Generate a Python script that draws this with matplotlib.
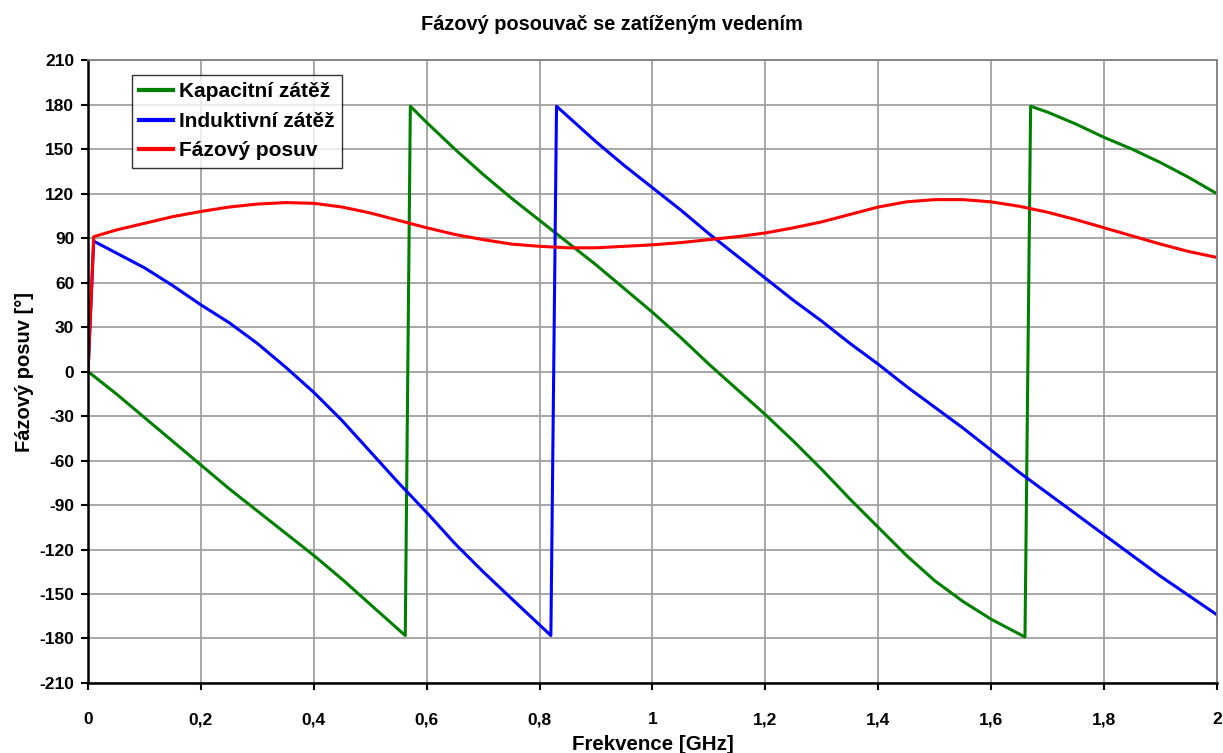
import numpy as np
import matplotlib.pyplot as plt

plt.rcParams['font.family'] = ['Liberation Sans', 'DejaVu Sans']
plt.rcParams['font.weight'] = 'bold'
plt.rcParams['axes.unicode_minus'] = False

# kapacitni zatez
x_kap = [0, 0.05, 0.1, 0.15, 0.2, 0.25, 0.3, 0.35, 0.4, 0.45, 0.5, 0.562,
         0.571, 0.6, 0.65, 0.7, 0.75, 0.8, 0.85, 0.9, 0.95, 1.0, 1.05, 1.1,
         1.15, 1.2, 1.25, 1.3, 1.35, 1.4, 1.45, 1.5, 1.55, 1.6, 1.66,
         1.67, 1.7, 1.75, 1.8, 1.85, 1.9, 1.95, 2.0]
y_kap = [0, -15, -31, -47, -63, -79, -94, -109, -124, -140, -157, -178,
         179, 168, 150, 133, 117, 102, 87, 72, 56, 40, 23, 5,
         -12, -29, -47, -66, -86, -105, -124, -141, -155, -167, -179,
         179, 175, 167, 158, 150, 141, 131, 120]

# induktivni zatez
x_ind = [0, 0.01, 0.05, 0.1, 0.15, 0.2, 0.25, 0.3, 0.35, 0.4, 0.45, 0.5,
         0.55, 0.6, 0.65, 0.7, 0.75, 0.82, 0.83, 0.9, 0.95, 1.0, 1.05, 1.1,
         1.15, 1.2, 1.25, 1.3, 1.35, 1.4, 1.45, 1.5, 1.55, 1.6, 1.65, 1.7,
         1.75, 1.8, 1.85, 1.9, 1.95, 2.0]
y_ind = [0, 88, 80, 70, 58, 45, 33, 19, 3, -14, -33, -54,
         -75, -95, -116, -135, -153, -178, 179, 155, 139, 124, 109, 93,
         78, 63, 48, 34, 19, 5, -10, -24, -38, -53, -68, -82,
         -96, -110, -124, -138, -151, -164]

# fazovy posuv
x_faz = [0, 0.01, 0.05, 0.1, 0.15, 0.2, 0.25, 0.3, 0.35, 0.4, 0.45, 0.5,
         0.55, 0.6, 0.65, 0.7, 0.75, 0.8, 0.85, 0.9, 0.95, 1.0, 1.05, 1.1,
         1.15, 1.2, 1.25, 1.3, 1.35, 1.4, 1.45, 1.5, 1.55, 1.6, 1.65, 1.7,
         1.75, 1.8, 1.85, 1.9, 1.95, 2.0]
y_faz = [0, 91, 95.5, 100, 104.5, 108, 111, 113, 114, 113.5, 111, 107,
         102, 97, 92.5, 89, 86, 84.5, 83.5, 83.5, 84.5, 85.5, 87, 89,
         91, 93.5, 97, 101, 106, 111, 114.5, 116, 116, 114.5, 111.5, 107.5,
         102.5, 97, 91.5, 86, 81, 77]

xticks = np.arange(0, 2.01, 0.2)
xticklabels = ['0', '0,2', '0,4', '0,6', '0,8', '1', '1,2', '1,4', '1,6', '1,8', '2']
yticks = np.arange(-210, 211, 30)

fig = plt.figure(figsize=(12.23, 7.53), dpi=100)
ax = fig.add_axes([0.072, 0.093, 0.923, 0.827])

ax.plot(x_kap, y_kap, color='#008000', lw=2.2, label='Kapacitní zátěž')
ax.plot(x_ind, y_ind, color='#0000ff', lw=2.2, label='Induktivní zátěž')
ax.plot(x_faz, y_faz, color='#ff0000', lw=2.2, label='Fázový posuv')

ax.set_xlim(0, 2)
ax.set_ylim(-210, 210)
ax.set_xticks(xticks)
ax.set_xticklabels(xticklabels)
ax.set_yticks(yticks)
ax.grid(True, color='#a0a0a0', lw=1.3)
ax.set_axisbelow(True)
ax.tick_params(direction='out', length=5, width=1.5, labelsize=12.5)
ax.tick_params(axis='x', pad=16)
ax.tick_params(axis='y', pad=5)
for s in ['left', 'bottom']:
    ax.spines[s].set_linewidth(1.8)
    ax.spines[s].set_color('black')
for s in ['top', 'right']:
    ax.spines[s].set_linewidth(1.3)
    ax.spines[s].set_color('#808080')

ax.set_xlabel('Frekvence [GHz]', fontsize=14.8, fontweight='bold', labelpad=6)
ax.set_ylabel('Fázový posuv [°]', fontsize=14.5, fontweight='bold', labelpad=4)
fig.suptitle('Fázový posouvač se zatíženým vedením', fontsize=14.4,
             fontweight='bold', y=0.98)

leg = ax.legend(loc='upper left', bbox_to_anchor=(0.039, 0.976), fontsize=15,
                frameon=True, fancybox=False, edgecolor='black',
                borderpad=0.35, handlelength=1.6, handletextpad=0.3,
                labelspacing=0.5, borderaxespad=0)
leg.get_frame().set_linewidth(1.0)
for line in leg.get_lines():
    line.set_linewidth(3)
for t in leg.get_texts():
    t.set_fontweight('bold')

fig.savefig('out.png', dpi=100)
